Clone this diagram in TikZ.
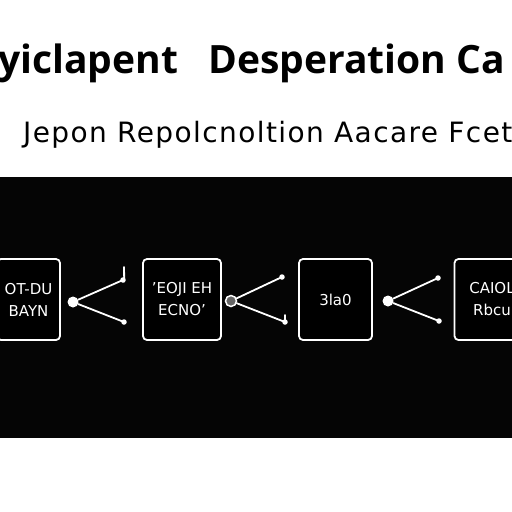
\documentclass[tikz,border=0pt]{standalone}
\usepackage{fontspec}
\setmainfont{DejaVu Sans}
\newfontfamily\titulofonte{Open Sans}
\newfontfamily\subfonte[LetterSpace=5]{DejaVu Sans}
\usetikzlibrary{positioning}

\begin{document}
\begin{tikzpicture}
  [
    x=1pt, y=-1pt,
    bloco/.style={draw=white, line width=1.8pt, rounded corners=4pt, fill=black, text=white, align=center, font=\fontsize{15}{22}\selectfont, inner sep=0pt, minimum height=81pt},
    ponta/.style={circle, fill=white, inner sep=0pt, minimum size=5.5pt},
    vertice/.style={circle, fill=white, inner sep=0pt, minimum size=11pt},
    ligacao/.style={draw=white, line width=1.8pt, line cap=round},
  ]
  \useasboundingbox (0,0) rectangle (512,512);
  % titulo
  \node[anchor=base west, inner sep=0pt, font=\titulofonte\bfseries\fontsize{39}{46}\selectfont] (titulo) at (-2,73) {yiclapent\hspace{20pt} Desperation Ca};
  \node[anchor=base west, inner sep=0pt, font=\subfonte\fontsize{28}{32}\selectfont] (subtitulo) at (23,142) {Jepon Repolcnoltion Aacare Fcet};
  % faixa preta
  \fill[black!98] (0,177) rectangle (512,438);
  % blocos
  \node[bloco, minimum width=63pt] (bloco1) at (28.5,299.5) {OT-DU\\BAYN};
  \node[bloco, minimum width=78pt] (bloco2) at (182,299.5) {'EOJI EH\\ECNO'};
  \node[bloco, minimum width=73pt] (bloco3) at (335.5,299.5) {3la0};
  \node[bloco, minimum width=75pt] (bloco4) at (492,299.5) {CAIOL\\Rbcu};
  % ligacoes
  \node[vertice] (v1) at (73,302) {};
  \node[ponta] (p1a) at (123,280) {};
  \node[ponta] (p1b) at (124,322) {};
  \node[vertice, draw=white, fill=black!60, line width=1.5pt] (v2) at (231,301) {};
  \node[ponta] (p2a) at (282,277) {};
  \node[ponta] (p2b) at (285,322) {};
  \node[vertice] (v3) at (388,301) {};
  \node[ponta] (p3a) at (438,278) {};
  \node[ponta] (p3b) at (439,321) {};
  \draw[ligacao] (v1) -- (p1a.center);
  \draw[ligacao] (v1) -- (p1b.center);
  \draw[ligacao] (v2) -- (p2a.center);
  \draw[ligacao] (v2) -- (p2b.center);
  \draw[ligacao] (v3) -- (p3a.center);
  \draw[ligacao] (v3) -- (p3b.center);
  \draw[ligacao] (p1a.center) to[out=-70, in=-90] ++(1,-13);
  \draw[ligacao] (p2b.center) -- ++(0,-7);
\end{tikzpicture}
\end{document}
